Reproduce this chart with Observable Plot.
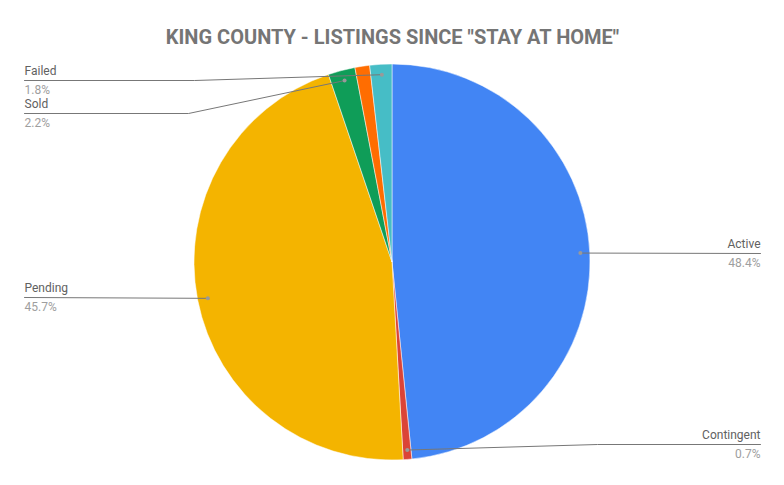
<!DOCTYPE html>
<html><head><meta charset="utf-8">
<script src="https://cdn.jsdelivr.net/npm/d3@7"></script>
<script src="https://cdn.jsdelivr.net/npm/@observablehq/plot@0.6"></script>
<style>body{margin:0;background:#fff;font-family:Roboto,sans-serif}</style>
</head><body><div id="chart"></div>
<script>
const categories = ["Active","Contingent","Pending","Sold","Other","Failed"];
const values = [48.4, 0.7, 45.7, 2.2, 1.2, 1.8];
const colors = ["#4285F4","#DB4437","#F4B400","#0F9D58","#FF6D01","#46BDC6"];
const labelShown = [true, true, true, true, false, true];
const pctLabels = ["48.4%","0.7%","45.7%","2.2%","1.2%","1.8%"];
const title = 'KING COUNTY - LISTINGS SINCE "STAY AT HOME"';

// layout
const W = 784, H = 485;
const cx = 392, cy = 262, R = 198;
const leftX = 24, rightX = 760;
const labelLayout = {
  Active:     {side: "right", y: 253},
  Contingent: {side: "right", y: 444, bend: 597},
  Pending:    {side: "left",  y: 297},
  Sold:       {side: "left",  y: 113, bend: 188},
  Failed:     {side: "left",  y: 80,  bend: 194}
};

const rows = categories.map((c, i) => ({category: c, value: values[i], color: colors[i], shown: labelShown[i], pct: pctLabels[i]}));
const arcs = d3.pie().sort(null).value(d => d.value)(rows);

const anchors = arcs.filter(a => a.data.shown).map(a => {
  const m = (a.startAngle + a.endAngle) / 2;
  const L = labelLayout[a.data.category];
  return {
    category: a.data.category, pct: a.data.pct,
    dx: cx + 0.95 * R * Math.sin(m), dy: cy - 0.95 * R * Math.cos(m),
    side: L.side, ly: L.y, bend: L.bend,
    lx: L.side === "left" ? leftX : rightX
  };
});
const leftA = anchors.filter(a => a.side === "left");
const rightA = anchors.filter(a => a.side === "right");
const leaders = anchors.flatMap(a => {
  const pts = [{category: a.category, x: a.lx, y: a.ly}];
  if (a.bend != null) pts.push({category: a.category, x: a.bend, y: a.ly});
  pts.push({category: a.category, x: a.dx, y: a.dy});
  return pts;
});

const slices = (index, scales) => {
  const x = scales.x, y = scales.y;
  const ox = x(cx), oy = y(cy), r = x(cx + R) - x(cx);
  const arc = d3.arc().innerRadius(0).outerRadius(r);
  const g = d3.create("svg:g").attr("transform", `translate(${ox},${oy})`);
  g.selectAll("path").data(arcs).join("path")
    .attr("d", arc).attr("fill", d => d.data.color)
    .attr("stroke", "#fff").attr("stroke-width", 0.5);
  return g.node();
};

const labelMarks = (data, anchor) => [
  Plot.text(data, {x: "lx", y: d => d.ly - 9, text: "category", textAnchor: anchor, fontSize: 12, fill: "#616161"}),
  Plot.text(data, {x: "lx", y: d => d.ly + 10, text: "pct", textAnchor: anchor, fontSize: 12, fill: "#9e9e9e"})
];

const chart = Plot.plot({
  width: W, height: H,
  marginTop: 0, marginBottom: 0, marginLeft: 0, marginRight: 0,
  x: {domain: [0, W], range: [0, W], axis: null},
  y: {domain: [0, H], range: [0, H], axis: null},
  style: {fontFamily: "Roboto, sans-serif", background: "#fff"},
  marks: [
    slices,
    Plot.line(leaders, {x: "x", y: "y", z: "category", stroke: "#777", strokeWidth: 1, curve: "linear"}),
    Plot.dot(anchors, {x: "dx", y: "dy", r: 2, fill: "#999", stroke: null}),
    ...labelMarks(leftA, "start"),
    ...labelMarks(rightA, "end"),
    Plot.text([title], {x: cx, y: 37, text: d => d, fontSize: 20, fontWeight: "bold", fill: "#757575", textAnchor: "middle"})
  ]
});
document.getElementById("chart").append(chart);
</script>
</body></html>
